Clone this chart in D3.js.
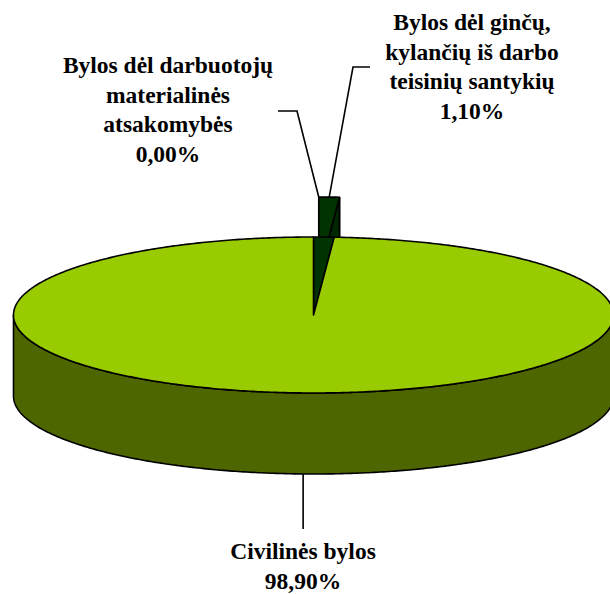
<!DOCTYPE html>
<html>
<head>
<meta charset="utf-8">
<script src="https://cdn.jsdelivr.net/npm/d3@7"></script>
<style>
  html, body { margin: 0; padding: 0; background: #fff; }
  svg { display: block; }
</style>
</head>
<body>
<svg id="chart" width="610" height="594"></svg>
<script>
// ---- data ----
const categories = [
  "Bylos dėl darbuotojų materialinės atsakomybės",
  "Bylos dėl ginčų, kylančių iš darbo teisinių santykių",
  "Civilinės bylos"
];
const values = [0.00, 1.10, 98.90];
const valueLabels = ["0,00%", "1,10%", "98,90%"];
const labelLines = [
  ["Bylos dėl darbuotojų", "materialinės", "atsakomybės"],
  ["Bylos dėl ginčų,", "kylančių iš darbo", "teisinių santykių"],
  ["Civilinės bylos"]
];
const exploded = [true, true, false];

// ---- layout ----
const cx = 313.5, cy = 315, rx = 300, ry = 78, depth = 81;
const explodeFrac = 0.51;
const topColors = ["#003300", "#003300", "#99CC00"];
const sideColors = ["#002800", "#002800", "#4D6600"];
const labelPos = [
  { x: 168, y: 73, lx: 278, ly: 111, bx: 297 },
  { x: 472, y: 30, lx: 370, ly: 67, bx: 353 },
  { x: 303, y: 559 }
];
const lineH = 29.5;

const svg = d3.select("#chart");

const pie = d3.pie().sort(null).value(d => d).startAngle(0).endAngle(2 * Math.PI);
const arcs = pie(values);

// explosion offset (same screen vector for exploded slices, based on the 1.10% slice)
const expMid = (arcs[1].startAngle + arcs[1].endAngle) / 2;
const ex = explodeFrac * rx * Math.sin(expMid);
const ey = -explodeFrac * ry * Math.cos(expMid);

function proj(a, r, z, off) {
  return [cx + off[0] + r * rx * Math.sin(a), cy + off[1] - r * ry * Math.cos(a) + z];
}
function arcPts(a0, a1, z, off) {
  const n = Math.max(2, Math.ceil(Math.abs(a1 - a0) / 0.01));
  return d3.range(n + 1).map(i => proj(a0 + (a1 - a0) * i / n, 1, z, off));
}
const line = d3.line();
const sw = 1.6;

function face(pts, color) {
  svg.append("path").attr("d", line(pts) + "Z")
    .attr("fill", color).attr("stroke", "#000").attr("stroke-width", sw).attr("stroke-linejoin", "round");
}
function drawSide(a0, a1, off, color) {
  const top = arcPts(a0, a1, 0, off);
  const bot = arcPts(a0, a1, depth, off).reverse();
  face(top.concat(bot), color);
}
function drawRadial(a, off, color) {
  face([proj(a, 0, 0, off), proj(a, 1, 0, off), proj(a, 1, depth, off), proj(a, 0, depth, off)], color);
}
function drawTop(a0, a1, off, color) {
  face([proj(0, 0, 0, off)].concat(arcPts(a0, a1, 0, off)), color);
}

// exploded (back) slices first
arcs.forEach((d, i) => {
  if (!exploded[i] || d.endAngle - d.startAngle <= 0) return;
  const off = [ex, ey];
  drawSide(d.startAngle, d.endAngle, off, sideColors[i]);
  drawRadial(d.startAngle, off, sideColors[i]);
  drawRadial(d.endAngle, off, sideColors[i]);
  drawTop(d.startAngle, d.endAngle, off, topColors[i]);
});

// gap left behind by exploded slices (seen dark)
arcs.forEach((d, i) => {
  if (!exploded[i] || d.endAngle - d.startAngle <= 0) return;
  drawTop(d.startAngle, d.endAngle, [0, 0], topColors[i]);
});

// main slice
arcs.forEach((d, i) => {
  if (exploded[i]) return;
  const off = [0, 0];
  const f0 = Math.max(d.startAngle, Math.PI / 2), f1 = Math.min(d.endAngle, 3 * Math.PI / 2);
  if (f1 > f0) drawSide(f0, f1, off, sideColors[i]);
  drawTop(d.startAngle, d.endAngle, off, topColors[i]);
});

// leader lines
arcs.forEach((d, i) => {
  const mid = (d.startAngle + d.endAngle) / 2;
  const lp = labelPos[i];
  let pts;
  if (exploded[i]) {
    const p = proj(mid, 1, 0, [ex, ey]);
    pts = [[lp.lx, lp.ly], [lp.bx, lp.ly], p];
  } else {
    const p = proj(mid, 1, depth, [0, 0]);
    pts = [p, [p[0], p[1] + 55]];
  }
  svg.append("path").attr("d", line(pts)).attr("fill", "none")
    .attr("stroke", "#000").attr("stroke-width", 1.6);
});

// labels
arcs.forEach((d, i) => {
  const lp = labelPos[i];
  const lines = labelLines[i].concat([valueLabels[i]]);
  const t = svg.append("text")
    .attr("text-anchor", "middle")
    .attr("font-family", "'Liberation Serif', 'Times New Roman', serif")
    .attr("font-weight", "bold")
    .attr("font-size", 23.5)
    .attr("fill", "#000");
  lines.forEach((s, k) => {
    t.append("tspan").attr("x", lp.x).attr("y", lp.y + k * lineH).text(s);
  });
});
</script>
</body>
</html>
